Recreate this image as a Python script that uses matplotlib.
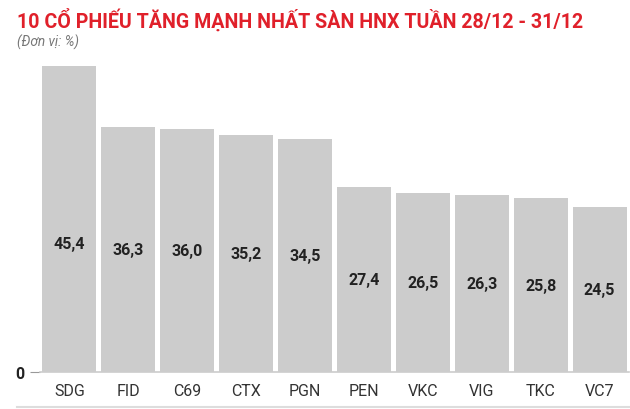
import matplotlib.pyplot as plt

# Data
tickers = ['SDG', 'FID', 'C69', 'CTX', 'PGN', 'PEN', 'VKC', 'VIG', 'TKC', 'VC7']
gains = [45.4, 36.3, 36.0, 35.2, 34.5, 27.4, 26.5, 26.3, 25.8, 24.5]
labels = ['45,4', '36,3', '36,0', '35,2', '34,5', '27,4', '26,5', '26,3', '25,8', '24,5']

plt.rcParams['font.family'] = ['Roboto', 'DejaVu Sans']

fig = plt.figure(figsize=(6.3, 4.1), dpi=100, facecolor='white')
ax = fig.add_axes([40 / 630, 37 / 410, 589 / 630, 337 / 410])

x = range(len(tickers))
ax.bar(x, gains, width=0.917, color='#cccccc', zorder=2)

for i, v in enumerate(gains):
    ax.text(i, min(v / 2, 19), labels[i], ha='center', va='center',
            fontsize=11.5, fontweight='bold', color='#222222', zorder=3)

ax.set_xlim(-0.5, len(tickers) - 0.5)
ax.set_ylim(0, 50)
ax.set_xticks(list(x))
ax.set_xticklabels(tickers, fontsize=11.5, color='#333333')
ax.tick_params(axis='x', length=0, pad=8)
ax.set_yticks([0])
ax.set_yticklabels(['0'], fontsize=11.5, fontweight='bold', color='#222222')
ax.tick_params(axis='y', length=7, color='#999999', pad=4)

for s in ['top', 'right', 'left']:
    ax.spines[s].set_visible(False)
ax.spines['bottom'].set_color('#cccccc')
ax.spines['bottom'].set_linewidth(1.2)

# Title and unit
fig.text(17 / 630, 1 - 20 / 410, '10 CỔ PHIẾU TĂNG MẠNH NHẤT SÀN HNX TUẦN 28/12 - 31/12',
         fontsize=14.1, fontweight='bold', color='#e0202a', va='center', ha='left')
fig.text(17 / 630, 1 - 42 / 410, '(Đơn vị: %)', fontsize=9.8, style='italic',
         color='#777777', va='center', ha='left')

# bottom rule
fig.add_artist(plt.Line2D([17 / 630, 1], [2 / 410, 2 / 410], color='#dddddd', linewidth=1.5))

fig.savefig('out.png', dpi=100, facecolor='white')
